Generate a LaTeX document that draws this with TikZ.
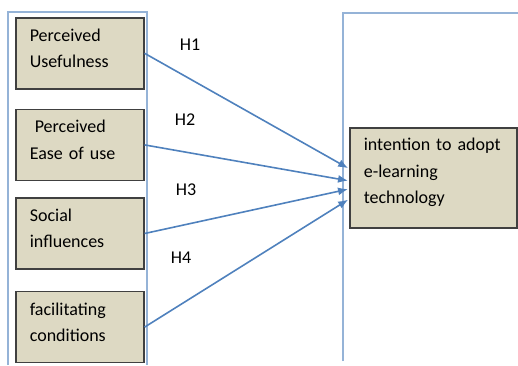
\documentclass[tikz,border=0pt]{standalone}
\usepackage{fontspec}
\setmainfont{Carlito}
\usepackage{tikz}
\usetikzlibrary{positioning,arrows.meta}
\usetikzlibrary{calc}

\definecolor{boxfill}{HTML}{DDD9C3}
\definecolor{boxline}{HTML}{404040}
\definecolor{frameline}{HTML}{95B3D7}
\definecolor{arrowline}{HTML}{4F81BD}

\begin{document}
\begin{tikzpicture}[
  x=1pt, y=-1pt,
  node distance=19pt,
  every node/.style={font=\fontsize{18}{26.5}\selectfont},
  box/.style={draw=boxline, line width=1.6pt, fill=boxfill, inner xsep=14pt, inner ysep=0pt, text width=100pt, minimum height=71pt, align=left, execute at end node={\endgraf\kern10pt}},
  goalbox/.style={box, text width=139pt, minimum height=100pt, execute at end node={\endgraf\kern1pt}},
  frame/.style={draw=frameline, line width=1.4pt},
  arrow/.style={-{Latex[length=10pt, width=8pt]}, draw=arrowline, line width=1.6pt, shorten >=1pt},
  hyp/.style={inner sep=0pt}
]
\useasboundingbox (0,0) rectangle (518,365);

% Frames
\draw[frame] (8,365) -- (8,12) -- (147,12) -- (147,365);
\draw[frame] (343,361) -- (343,13) -- (518,13);

% Constructs
\node[box, anchor=north west] (useful) at (15,17) {Perceived\\Usefulness};
\node[box, below=of useful] (ease) {\hspace{5pt}Perceived\\Ease of use};
\node[box, below=16pt of ease] (social) {Social\\influences};
\node[box, below=21pt of social] (facil) {facilitating\\conditions};

% Outcome
\node[goalbox, anchor=north west] (intent) at (349,127) {intention to adopt\\e-learning\\technology};

% Hypotheses
\node[hyp] (h1) at (190,45) {H1};
\node[hyp] (h2) at (185,120) {H2};
\node[hyp] (h3) at (186,190) {H3};
\node[hyp] (h4) at (181,258) {H4};

% Arrows
\draw[arrow] (useful.east) -- ($(intent.north west)!0.41!(intent.south west)$);
\draw[arrow] (ease.east) -- ($(intent.north west)!0.53!(intent.south west)$);
\draw[arrow] (social.east) -- ($(intent.north west)!0.61!(intent.south west)$);
\draw[arrow] (facil.east) -- ($(intent.north west)!0.71!(intent.south west)$);

\end{tikzpicture}
\end{document}
